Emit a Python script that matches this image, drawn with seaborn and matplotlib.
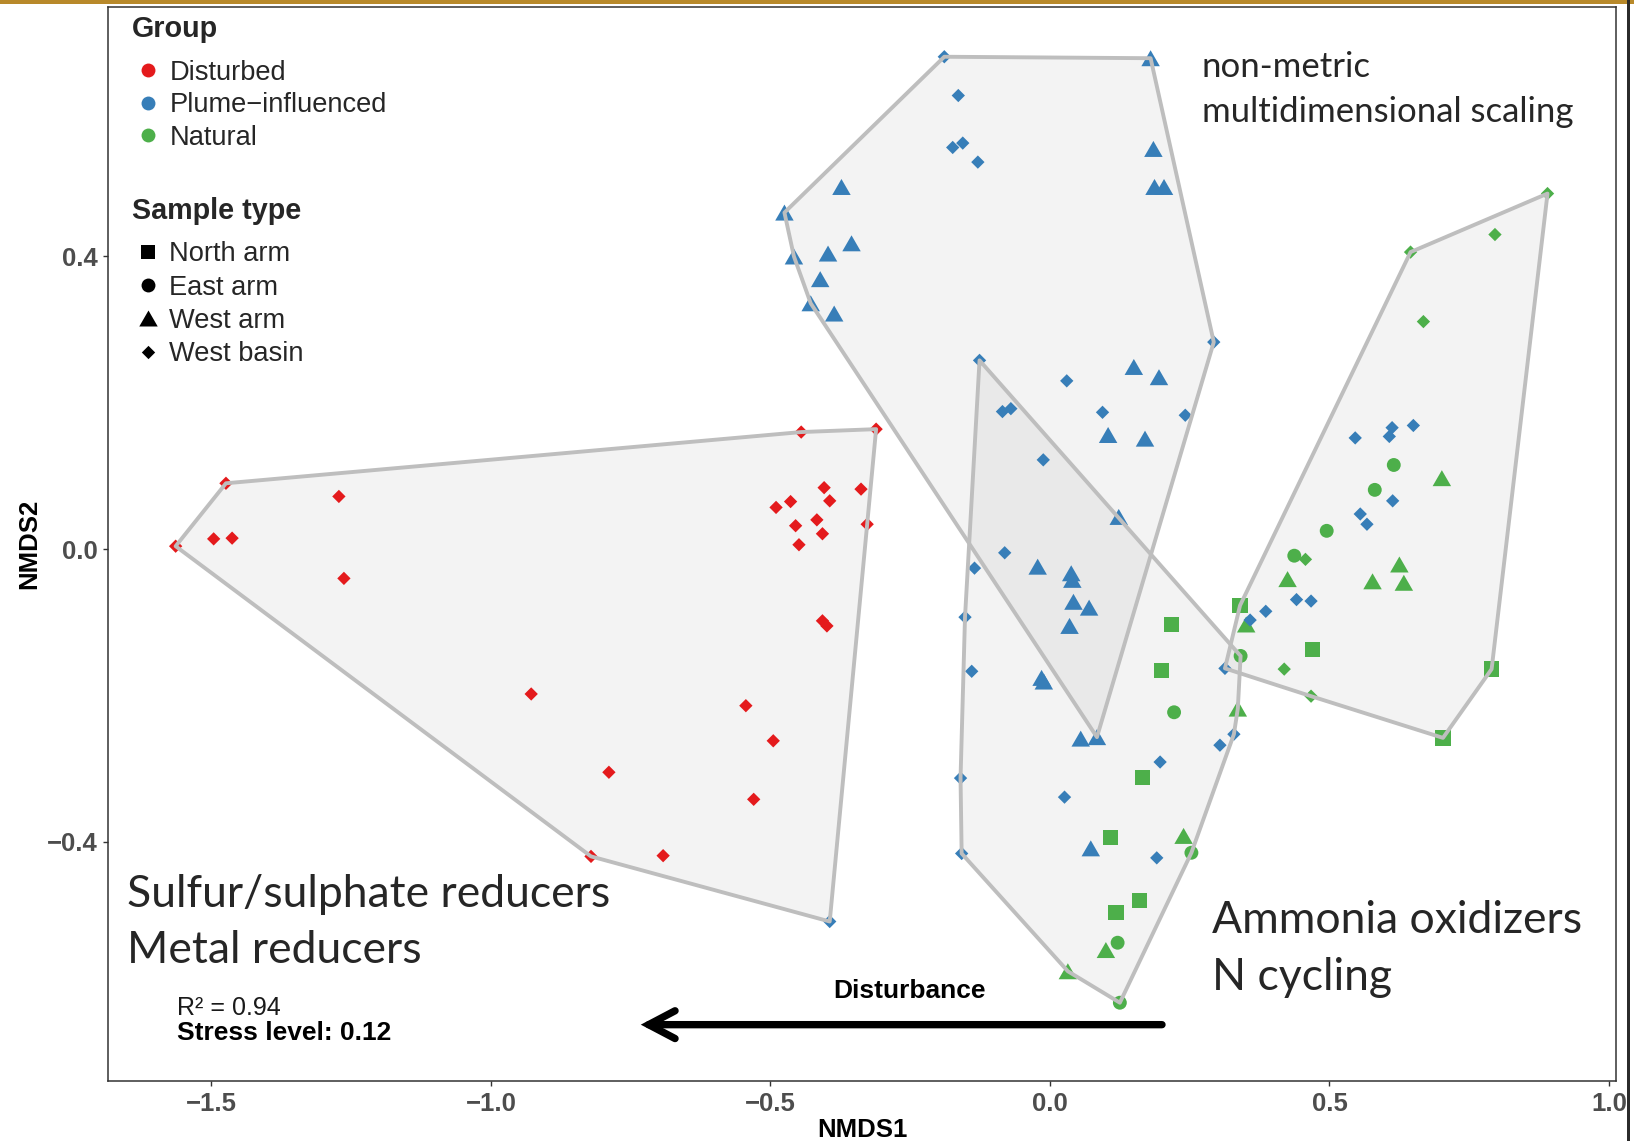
import numpy as np
import pandas as pd
import matplotlib
matplotlib.use("Agg")
import matplotlib.pyplot as plt
from matplotlib.path import Path
from matplotlib.lines import Line2D
from matplotlib.patches import Polygon, Rectangle
from matplotlib.ticker import FuncFormatter
import seaborn as sns

# ---------------------------------------------------------------
# NMDS site scores (NMDS1 / NMDS2) per group and sample type,
# plus the cluster each site belongs to (used for the hulls)
# ---------------------------------------------------------------
disturbed_basin_x = [-1.564, -1.474, -1.496, -1.463, -1.272, -1.263, -0.928, -0.789,
                     -0.445, -0.311, -0.404, -0.338, -0.464, -0.490, -0.394, -0.417,
                     -0.455, -0.407, -0.449, -0.327, -0.407, -0.399, -0.544, -0.495,
                     -0.530, -0.821, -0.692]
disturbed_basin_y = [0.004, 0.090, 0.014, 0.015, 0.072, -0.040, -0.198, -0.305,
                     0.160, 0.164, 0.084, 0.082, 0.065, 0.057, 0.066, 0.040,
                     0.032, 0.021, 0.006, 0.034, -0.098, -0.105, -0.214, -0.262,
                     -0.342, -0.420, -0.419]
disturbed_basin_cl = ["A"] * 27

plume_basin_x = [-0.189, -0.164, -0.174, -0.156, -0.129, 0.293, -0.126, 0.030,
                 -0.085, -0.070, 0.094, 0.242, -0.012, -0.081, -0.135, -0.152,
                 -0.140, -0.160, -0.158, 0.026, 0.197, 0.191, 0.329, 0.304,
                 0.313, 0.358, 0.386, 0.441, 0.467, 0.555, 0.567, 0.613,
                 0.546, 0.612, 0.607, 0.650, -0.394]
plume_basin_y = [0.673, 0.620, 0.549, 0.555, 0.529, 0.283, 0.258, 0.230,
                 0.188, 0.192, 0.187, 0.183, 0.122, -0.005, -0.026, -0.093,
                 -0.167, -0.313, -0.416, -0.339, -0.291, -0.422, -0.253, -0.268,
                 -0.163, -0.097, -0.085, -0.069, -0.071, 0.048, 0.034, 0.066,
                 0.152, 0.166, 0.154, 0.169, -0.509]
plume_basin_cl = (["B"] * 6 + ["C"] + ["B"] * 7 + ["C"] * 10 + ["D"] * 12 + ["A"])

plume_arm_x = [0.180, 0.185, 0.187, 0.204, -0.373, -0.475, -0.355, -0.397,
               -0.458, -0.411, -0.428, -0.386, 0.150, 0.195, 0.104, 0.170,
               0.123, -0.022, 0.038, 0.040, 0.042, 0.070, 0.035, -0.015,
               -0.011, 0.055, 0.084, 0.073]
plume_arm_y = [0.671, 0.547, 0.495, 0.495, 0.495, 0.460, 0.418, 0.404,
               0.400, 0.369, 0.336, 0.322, 0.249, 0.235, 0.156, 0.151,
               0.044, -0.024, -0.033, -0.042, -0.072, -0.080, -0.105, -0.176,
               -0.181, -0.259, -0.257, -0.409]
plume_arm_cl = ["B"] * 23 + ["C", "C", "C", "B", "C"]

natural_north_x = [0.340, 0.218, 0.470, 0.200, 0.790, 0.703, 0.166, 0.108, 0.160, 0.118]
natural_north_y = [-0.077, -0.103, -0.137, -0.166, -0.164, -0.258, -0.312, -0.394, -0.480, -0.497]
natural_north_cl = ["D", "C", "D", "C", "D", "D", "C", "C", "C", "C"]

natural_east_x = [0.615, 0.581, 0.495, 0.437, 0.341, 0.222, 0.253, 0.121, 0.125]
natural_east_y = [0.115, 0.081, 0.025, -0.009, -0.146, -0.223, -0.415, -0.538, -0.620]
natural_east_cl = ["D", "D", "D", "D", "C", "C", "C", "C", "C"]

natural_arm_x = [0.701, 0.625, 0.425, 0.577, 0.633, 0.351, 0.336, 0.239, 0.100, 0.032]
natural_arm_y = [0.097, -0.021, -0.041, -0.044, -0.046, -0.103, -0.218, -0.392, -0.548, -0.577]
natural_arm_cl = ["D"] * 6 + ["C"] * 4

natural_basin_x = [0.457, 0.419, 0.467, 0.890, 0.645, 0.796, 0.668]
natural_basin_y = [-0.014, -0.164, -0.201, 0.486, 0.406, 0.430, 0.311]
natural_basin_cl = ["D"] * 7

group_order = ["Disturbed", "Plume\u2212influenced", "Natural"]
group_colors = ["#E41A1C", "#377EB8", "#4DAF4A"]
type_order = ["North arm", "East arm", "West arm", "West basin"]

x_ticks = [-1.5, -1.0, -0.5, 0.0, 0.5, 1.0]
y_ticks = [-0.4, 0.0, 0.4]

stress_value = 0.12
r_squared = 0.94

# ---------------------------------------------------------------
# long table
# ---------------------------------------------------------------
parts = [
    ("Disturbed", "West basin", disturbed_basin_x, disturbed_basin_y, disturbed_basin_cl),
    (group_order[1], "West basin", plume_basin_x, plume_basin_y, plume_basin_cl),
    (group_order[1], "West arm", plume_arm_x, plume_arm_y, plume_arm_cl),
    ("Natural", "North arm", natural_north_x, natural_north_y, natural_north_cl),
    ("Natural", "East arm", natural_east_x, natural_east_y, natural_east_cl),
    ("Natural", "West arm", natural_arm_x, natural_arm_y, natural_arm_cl),
    ("Natural", "West basin", natural_basin_x, natural_basin_y, natural_basin_cl),
]
df = pd.concat(
    [pd.DataFrame({"NMDS1": xs, "NMDS2": ys, "Group": g, "Sample type": st, "Cluster": cl})
     for g, st, xs, ys, cl in parts],
    ignore_index=True,
)
palette = dict(zip(group_order, group_colors))

# marker shapes (ggplot-like filled triangle and diamond)
TRIANGLE = Path([(0, 0.433), (-0.5, -0.433), (0.5, -0.433), (0, 0.433)], [1, 2, 2, 79])
DIAMOND = Path([(0, 0.5), (0.5, 0), (0, -0.5), (-0.5, 0), (0, 0.5)], [1, 2, 2, 2, 79])
shape_marker = {"North arm": "s", "East arm": "o", "West arm": TRIANGLE, "West basin": DIAMOND}
shape_area = {"North arm": 121, "East arm": 100, "West arm": 177, "West basin": 92}
legend_ms = {"North arm": 10.5, "East arm": 10.0, "West arm": 13.3, "West basin": 9.6}


def convex_hull(points):
    pts = sorted(set(map(tuple, points)))

    def cross(o, a, b):
        return (a[0] - o[0]) * (b[1] - o[1]) - (a[1] - o[1]) * (b[0] - o[0])

    lower, upper = [], []
    for p in pts:
        while len(lower) >= 2 and cross(lower[-2], lower[-1], p) <= 0:
            lower.pop()
        lower.append(p)
    for p in reversed(pts):
        while len(upper) >= 2 and cross(upper[-2], upper[-1], p) <= 0:
            upper.pop()
        upper.append(p)
    return np.array(lower[:-1] + upper[:-1])


# ---------------------------------------------------------------
# figure
# ---------------------------------------------------------------
sns.set_theme(style="white")
plt.rcParams["font.family"] = ["Liberation Sans", "DejaVu Sans"]

W, H = 1634, 1141
fig = plt.figure(figsize=(W / 100, H / 100), dpi=100)
fig.patch.set_facecolor("white")
ax = fig.add_axes([108 / W, 1 - 1081 / H, (1616 - 108) / W, (1081 - 7) / H])

# cluster hulls: translucent grey fill under the points, outline above
for cl, sub in df.groupby("Cluster"):
    hull = convex_hull(sub[["NMDS1", "NMDS2"]].to_numpy())
    ax.add_patch(Polygon(hull, closed=True, facecolor="#BEBEBE", alpha=0.185,
                         edgecolor="none", zorder=1))
    ax.add_patch(Polygon(hull, closed=True, fill=False, edgecolor="#BEBEBE",
                         lw=2.8, joinstyle="round", zorder=3))

for st in type_order:
    sub = df[df["Sample type"] == st]
    sns.scatterplot(data=sub, x="NMDS1", y="NMDS2", hue="Group", hue_order=group_order,
                    palette=palette, marker=shape_marker[st], s=shape_area[st],
                    linewidth=0, legend=False, ax=ax, zorder=2)

ax.set_xlim(-1.685, 1.0125)
ax.set_ylim(-0.727, 0.741)
ax.set_xticks(x_ticks)
ax.set_yticks(y_ticks)
fmt = FuncFormatter(lambda v, pos: f"{v:.1f}".replace("-", "\u2212"))
ax.xaxis.set_major_formatter(fmt)
ax.yaxis.set_major_formatter(fmt)
ax.tick_params(axis="both", direction="out", length=3.6, width=1.0, color="#333333",
               labelsize=18.5, labelcolor="#4D4D4D", pad=4, bottom=True, left=True)
for lab in ax.get_xticklabels() + ax.get_yticklabels():
    lab.set_fontweight("bold")
for sp in ax.spines.values():
    sp.set_visible(True)
    sp.set_color("#333333")
    sp.set_linewidth(1.1)

ax.set_xlabel("NMDS1", fontsize=18.5, fontweight="bold", color="black")
ax.set_ylabel("NMDS2", fontsize=18.5, fontweight="bold", color="black")
ax.xaxis.set_label_coords(0.5, -0.034)
ax.yaxis.set_label_coords(-0.0444, 0.5)

# disturbance gradient arrow
ax.annotate("", xy=(-0.732, -0.650), xytext=(0.2004, -0.650),
            arrowprops=dict(arrowstyle="->,head_length=0.95,head_width=0.5",
                            lw=5.3, color="black", shrinkA=0, shrinkB=0,
                            mutation_scale=20, joinstyle="miter"))
ax.text(-0.2504, -0.613, "Disturbance", ha="center", va="baseline",
        fontsize=19, fontweight="bold", color="black")

ax.text(-1.562, -0.637, f"R\u00b2 = {r_squared:.2f}", fontsize=18, va="baseline", color="#1a1a1a")
ax.text(-1.562, -0.671, f"Stress level: {stress_value:.2f}", fontsize=19,
        fontweight="bold", va="baseline", color="black")

# legends
group_handles = [Line2D([], [], linestyle="", marker="o", markersize=10,
                        markerfacecolor=c, markeredgewidth=0) for c in group_colors]
type_handles = [Line2D([], [], linestyle="", marker=shape_marker[t], markersize=legend_ms[t],
                       markerfacecolor="black", markeredgewidth=0) for t in type_order]

common = dict(loc="upper left", bbox_transform=fig.transFigure, frameon=False,
              fontsize=19.6, title_fontproperties={"weight": "bold", "size": 20.7},
              alignment="left", borderpad=0, borderaxespad=0,
              handlelength=1.2, handletextpad=0.19)
leg1 = ax.legend(group_handles, group_order, title="Group",
                 bbox_to_anchor=(131.5 / W, 1 - 15.0 / H), labelspacing=0.24, **common)
leg1._legend_box.sep = 12.0
ax.add_artist(leg1)
leg2 = ax.legend(type_handles, type_order, title="Sample type",
                 bbox_to_anchor=(131.5 / W, 1 - 197.4 / H), labelspacing=0.27, **common)
leg2._legend_box.sep = 11.4

# slide annotations
def fx(px):
    return px / W


def fy(py):
    return 1 - py / H


slide_font = ["Lato", "DejaVu Sans"]
fig.text(fx(1201.5), fy(77.3), "non-metric", family=slide_font, fontsize=25, va="baseline")
fig.text(fx(1201.5), fy(121.7), "multidimensional scaling", family=slide_font, fontsize=25, va="baseline")
fig.text(fx(127), fy(906.7), "Sulfur/sulphate reducers", family=slide_font, fontsize=32, va="baseline")
fig.text(fx(127), fy(963.3), "Metal reducers", family=slide_font, fontsize=32, va="baseline")
fig.text(fx(1212), fy(932.7), "Ammonia oxidizers", family=slide_font, fontsize=32, va="baseline")
fig.text(fx(1212), fy(990), "N cycling", family=slide_font, fontsize=32, va="baseline")

# slide frame
fig.patches.append(Rectangle((0, 1 - 3.5 / H), 1, 3.5 / H, transform=fig.transFigure,
                             facecolor="#B8892A", edgecolor="none", zorder=10))
fig.patches.append(Rectangle((fx(1627), 0), 3 / W, 1, transform=fig.transFigure,
                             facecolor="#2b2b2b", edgecolor="none", zorder=10))

fig.savefig("out.png", dpi=100)
